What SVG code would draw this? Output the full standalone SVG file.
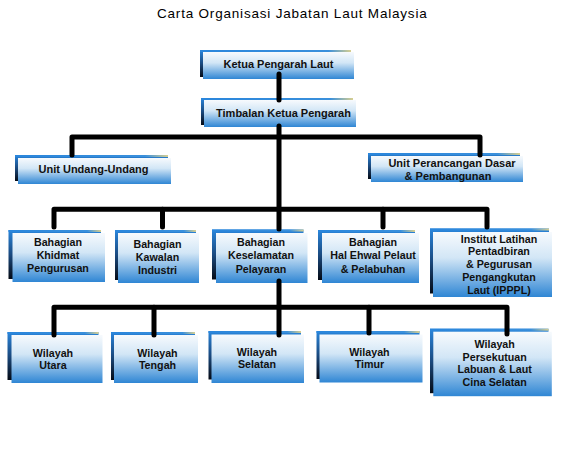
<svg xmlns="http://www.w3.org/2000/svg" width="562" height="461" viewBox="0 0 562 461">
<defs>
  <linearGradient id="gMain" x1="0" y1="0" x2="0" y2="1">
    <stop offset="0" stop-color="#f7fafd"/>
    <stop offset="0.4" stop-color="#d2e6f6"/>
    <stop offset="1" stop-color="#2f86d4"/>
  </linearGradient>
  <linearGradient id="gShadow" x1="0" y1="0" x2="0" y2="1">
    <stop offset="0" stop-color="#2a86dc"/>
    <stop offset="0.5" stop-color="#1a4a80"/>
    <stop offset="1" stop-color="#050a14"/>
  </linearGradient>
  <linearGradient id="gTop" x1="0" y1="0" x2="1" y2="0">
    <stop offset="0" stop-color="#2a86dc"/>
    <stop offset="0.85" stop-color="#3a90dc"/>
    <stop offset="1" stop-color="#d8cf90"/>
  </linearGradient>
</defs>
<style>
  .sh { fill: url(#gShadow); }
  .tp { fill: url(#gTop); }
  .bx { fill: url(#gMain); }
  .t { font-family: "Liberation Sans", Arial, sans-serif; font-weight: bold; font-size: 10.7px; fill: #111; text-anchor: middle; }
  .t11 { font-size: 11px; }
  .title { font-family: "Liberation Sans", Arial, sans-serif; font-size: 13.5px; fill: #000; letter-spacing: 0.8px; }
  .c { fill: none; stroke: #000; stroke-width: 5; stroke-linecap: round; stroke-linejoin: round; }
</style>
<rect width="562" height="461" fill="#fff"/>
<text class="title" x="157" y="18">Carta Organisasi Jabatan Laut Malaysia</text>

<g id="ketua">
  <rect class="sh" x="200" y="50" width="151" height="27"/>
  <rect class="tp" x="200" y="50" width="151" height="2"/>
  <rect class="bx" x="203" y="52" width="151" height="27"/>
  <text class="t t11" x="278.5" y="68">Ketua Pengarah Laut</text>
</g>
<g id="timbalan">
  <rect class="sh" x="201" y="98" width="152" height="27"/>
  <rect class="tp" x="201" y="98" width="152" height="2"/>
  <rect class="bx" x="204" y="100" width="152" height="27"/>
  <text class="t t11" x="283.5" y="117">Timbalan Ketua Pengarah</text>
</g>
<g id="undang">
  <rect class="sh" x="15" y="155" width="153" height="26"/>
  <rect class="tp" x="15" y="155" width="153" height="2"/>
  <rect class="bx" x="18" y="158" width="153" height="26"/>
  <text class="t t11" x="93.5" y="173">Unit Undang-Undang</text>
</g>
<g id="perancangan">
  <rect class="sh" x="368" y="153" width="152" height="26"/>
  <rect class="tp" x="368" y="153" width="152" height="2"/>
  <rect class="bx" x="371" y="156" width="152" height="26"/>
  <text class="t t11" x="452" y="166.5">Unit Perancangan Dasar</text>
  <text class="t t11" x="448" y="179.5">&amp; Pembangunan</text>
</g>

<g id="khidmat">
  <rect class="sh" x="8.5" y="230" width="92.5" height="49"/>
  <rect class="tp" x="8.5" y="230" width="92.5" height="2"/>
  <rect class="bx" x="12.5" y="233" width="92.5" height="49"/>
  <text class="t" x="58" y="246">Bahagian</text>
  <text class="t" x="58" y="259">Khidmat</text>
  <text class="t" x="58" y="272">Pengurusan</text>
</g>
<g id="kawalan">
  <rect class="sh" x="115" y="230" width="81" height="50"/>
  <rect class="tp" x="115" y="230" width="81" height="2"/>
  <rect class="bx" x="118" y="233" width="81" height="50"/>
  <text class="t" x="157.5" y="248">Bahagian</text>
  <text class="t" x="157.5" y="261">Kawalan</text>
  <text class="t" x="157.5" y="274">Industri</text>
</g>
<g id="keselamatan">
  <rect class="sh" x="212" y="229.5" width="91.5" height="50"/>
  <rect class="tp" x="212" y="229.5" width="91.5" height="2"/>
  <rect class="bx" x="216" y="233" width="91.5" height="50"/>
  <text class="t" x="261" y="246">Bahagian</text>
  <text class="t" x="261" y="259">Keselamatan</text>
  <text class="t" x="261" y="272.5">Pelayaran</text>
</g>
<g id="halehwal">
  <rect class="sh" x="318" y="230" width="97" height="50"/>
  <rect class="tp" x="318" y="230" width="97" height="2"/>
  <rect class="bx" x="322" y="233" width="97" height="50"/>
  <text class="t" x="373" y="246">Bahagian</text>
  <text class="t" x="373" y="259">Hal Ehwal Pelaut</text>
  <text class="t" x="373" y="272.5">&amp; Pelabuhan</text>
</g>
<g id="institut">
  <rect class="sh" x="430" y="228.5" width="119" height="65"/>
  <rect class="tp" x="430" y="228.5" width="119" height="2"/>
  <rect class="bx" x="433" y="232" width="119" height="65"/>
  <text class="t" x="499" y="242.5">Institut Latihan</text>
  <text class="t" x="499" y="255.3">Pentadbiran</text>
  <text class="t" x="499" y="268.1">&amp; Pegurusan</text>
  <text class="t" x="499" y="280.9">Pengangkutan</text>
  <text class="t" x="499" y="293.7">Laut (IPPPL)</text>
</g>

<g id="utara">
  <rect class="sh" x="7.5" y="332" width="91" height="48"/>
  <rect class="tp" x="7.5" y="332" width="91" height="2"/>
  <rect class="bx" x="11.5" y="335" width="91" height="48"/>
  <text class="t" x="53" y="356.7">Wilayah</text>
  <text class="t" x="53" y="369">Utara</text>
</g>
<g id="tengah">
  <rect class="sh" x="111" y="332" width="84" height="48"/>
  <rect class="tp" x="111" y="332" width="84" height="2"/>
  <rect class="bx" x="114" y="335" width="84" height="48"/>
  <text class="t" x="157.5" y="356.7">Wilayah</text>
  <text class="t" x="157.5" y="369">Tengah</text>
</g>
<g id="selatan">
  <rect class="sh" x="208.5" y="331" width="92.5" height="48.5"/>
  <rect class="tp" x="208.5" y="331" width="92.5" height="2"/>
  <rect class="bx" x="211.5" y="334.5" width="92.5" height="48.5"/>
  <text class="t" x="257" y="355.7">Wilayah</text>
  <text class="t" x="257" y="368">Selatan</text>
</g>
<g id="timur">
  <rect class="sh" x="316.5" y="331" width="103" height="48"/>
  <rect class="tp" x="316.5" y="331" width="103" height="2"/>
  <rect class="bx" x="319.5" y="334.5" width="103" height="48"/>
  <text class="t" x="369.5" y="355.7">Wilayah</text>
  <text class="t" x="369.5" y="368">Timur</text>
</g>
<g id="persekutuan">
  <rect class="sh" x="430" y="328.7" width="118.5" height="64.5"/>
  <rect class="tp" x="430" y="328.7" width="118.5" height="2"/>
  <rect class="bx" x="433.3" y="331.7" width="118.5" height="64.5"/>
  <text class="t" x="494.7" y="348">Wilayah</text>
  <text class="t" x="494.7" y="360.5">Persekutuan</text>
  <text class="t" x="494.7" y="373.3">Labuan &amp; Laut</text>
  <text class="t" x="494.7" y="386.3">Cina Selatan</text>
</g>

<g id="connectors">
  <path class="c" d="M279 74 V100"/>
  <path class="c" d="M279 126 V209"/>
  <path class="c" d="M72 155 V137 H480 V155"/>
  <path class="c" d="M54 227 V209.3 H487 V227"/>
  <path class="c" d="M162.5 209.3 V227 M383 209.3 V227 M279 209.3 V229"/>
  <path class="c" d="M279 281 V307.3"/>
  <path class="c" d="M54 335 V307.3 H507 V334"/>
  <path class="c" d="M154 307.3 V335 M369 307.3 V333 M279 307.3 V335"/>
</g>
</svg>
